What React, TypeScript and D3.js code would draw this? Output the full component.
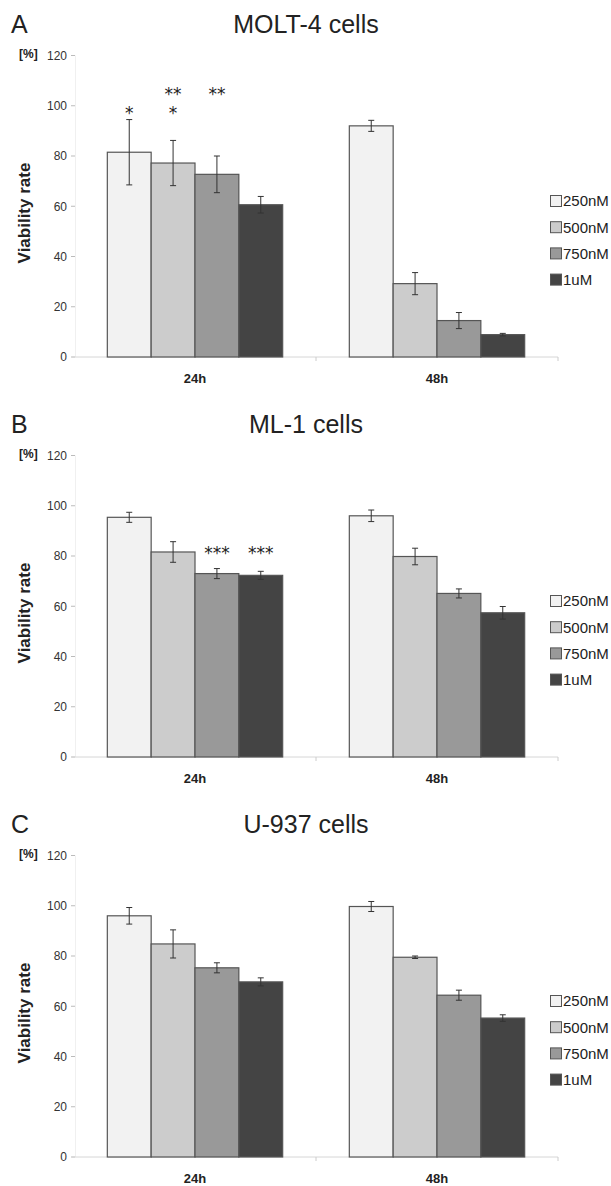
import React from "react";
import * as d3 from "d3";

const concentrations = ["250nM", "500nM", "750nM", "1uM"];
const timepoints = ["24h", "48h"];
const yTicks = [0, 20, 40, 60, 80, 100, 120];
const barColors = ["#f2f2f2", "#cccccc", "#999999", "#444444"];

const panelLetters = ["A", "B", "C"];
const panelTitles = ["MOLT-4 cells", "ML-1 cells", "U-937 cells"];

// MOLT-4
const molt4Mean24 = [81.5, 77.2, 72.7, 60.6];
const molt4Err24 = [13.0, 9.0, 7.3, 3.3];
const molt4Mean48 = [92.0, 29.2, 14.5, 8.9];
const molt4Err48 = [2.2, 4.4, 3.2, 0.5];
const molt4Stars24 = [["*"], ["**", "*"], ["**"], []];
const molt4StarLevel24 = [98.5, 106, 106, 0];
const molt4Stars48 = [[], [], [], []];
const molt4StarLevel48 = [0, 0, 0, 0];

// ML-1
const ml1Mean24 = [95.4, 81.6, 73.0, 72.3];
const ml1Err24 = [2.0, 4.1, 2.0, 1.6];
const ml1Mean48 = [96.0, 79.8, 65.1, 57.4];
const ml1Err48 = [2.3, 3.3, 1.8, 2.5];
const ml1Stars24 = [[], [], ["***"], ["***"]];
const ml1StarLevel24 = [0, 0, 82.7, 82.7];
const ml1Stars48 = [[], [], [], []];
const ml1StarLevel48 = [0, 0, 0, 0];

// U-937
const u937Mean24 = [96.0, 84.8, 75.3, 69.7];
const u937Err24 = [3.3, 5.6, 2.0, 1.6];
const u937Mean48 = [99.7, 79.5, 64.4, 55.3];
const u937Err48 = [2.0, 0.5, 2.0, 1.3];
const u937Stars24 = [[], [], [], []];
const u937StarLevel24 = [0, 0, 0, 0];
const u937Stars48 = [[], [], [], []];
const u937StarLevel48 = [0, 0, 0, 0];

const panels = [
  {
    means: [molt4Mean24, molt4Mean48],
    errs: [molt4Err24, molt4Err48],
    stars: [molt4Stars24, molt4Stars48],
    starLevels: [molt4StarLevel24, molt4StarLevel48],
  },
  {
    means: [ml1Mean24, ml1Mean48],
    errs: [ml1Err24, ml1Err48],
    stars: [ml1Stars24, ml1Stars48],
    starLevels: [ml1StarLevel24, ml1StarLevel48],
  },
  {
    means: [u937Mean24, u937Mean48],
    errs: [u937Err24, u937Err48],
    stars: [u937Stars24, u937Stars48],
    starLevels: [u937StarLevel24, u937StarLevel48],
  },
];

const FONT = "'Liberation Sans', Arial, Helvetica, sans-serif";
const STAR_FONT = "'DejaVu Sans', sans-serif";
const W = 611;
const H = 1186;
const PANEL_H = 400;
const PLOT_L = 74;
const PLOT_R = 558;

function Panel({ idx }: { idx: number }) {
  const p = panels[idx];
  const y = d3.scaleLinear().domain([0, 120]).range([357, 55.5]);
  const xg = d3.scaleBand().domain(timepoints).range([PLOT_L, PLOT_R]).padding(0);
  const xc = d3
    .scaleBand()
    .domain(concentrations)
    .range([0, xg.bandwidth()])
    .paddingInner(0)
    .paddingOuter(0.76);
  const bw = xc.bandwidth();
  return (
    <g transform={`translate(0,${idx * PANEL_H})`}>
      <text x={11} y={33} fontSize={25} fontFamily={FONT} fill="#222">
        {panelLetters[idx]}
      </text>
      <text x={306} y={33} fontSize={25} fontFamily={FONT} fill="#222" textAnchor="middle">
        {panelTitles[idx]}
      </text>
      <text x={19} y={58} fontSize={12} fontWeight="bold" fontFamily={FONT} fill="#222">
        [%]
      </text>
      <text
        transform={`translate(30,213) rotate(-90)`}
        fontSize={17}
        fontWeight="bold"
        fontFamily={FONT}
        fill="#222"
        textAnchor="middle"
      >
        Viability rate
      </text>
      {/* y axis */}
      <line x1={PLOT_L + 1.5} x2={PLOT_L + 1.5} y1={y(120)} y2={y(0)} stroke="#f0f0f0" strokeWidth={1} />
      {yTicks.map((t) => (
        <g key={t}>
          <line x1={71} x2={75} y1={y(t)} y2={y(t)} stroke="#bbb" strokeWidth={1} />
          <text x={67} y={y(t) + 4.3} fontSize={12} fontFamily={FONT} fill="#333" textAnchor="end">
            {t}
          </text>
        </g>
      ))}
      {/* x axis */}
      <line x1={PLOT_L - 2} x2={PLOT_R} y1={y(0)} y2={y(0)} stroke="#d6d6d6" strokeWidth={1} />
      {[PLOT_L + xg.bandwidth(), PLOT_R].map((xx, i) => (
        <line key={i} x1={xx} x2={xx} y1={y(0)} y2={y(0) + 4} stroke="#ccc" strokeWidth={1} />
      ))}
      {timepoints.map((tp, ti) => {
        const gx = xg(tp)!;
        return (
          <g key={tp}>
            {concentrations.map((c, ci) => {
              const v = p.means[ti][ci];
              const e = p.errs[ti][ci];
              const bx = gx + xc(c)!;
              const cx = bx + bw / 2;
              const stars = p.stars[ti][ci];
              const level = p.starLevels[ti][ci];
              return (
                <g key={c}>
                  <rect
                    x={bx}
                    y={y(v)}
                    width={bw}
                    height={y(0) - y(v)}
                    fill={barColors[ci]}
                    stroke="#555"
                    strokeWidth={1.2}
                  />
                  <line x1={cx} x2={cx} y1={y(v + e)} y2={y(v - e)} stroke="#333" strokeWidth={1} />
                  <line x1={cx - 3} x2={cx + 3} y1={y(v + e)} y2={y(v + e)} stroke="#333" strokeWidth={1} />
                  <line x1={cx - 3} x2={cx + 3} y1={y(v - e)} y2={y(v - e)} stroke="#333" strokeWidth={1} />
                  {stars.map((s, si) => (
                    <text
                      key={si}
                      x={cx}
                      y={y(level) + 9.6 + si * 19}
                      fontSize={17}
                      fontFamily={STAR_FONT}
                      fill="#222"
                      textAnchor="middle"
                    >
                      {s}
                    </text>
                  ))}
                </g>
              );
            })}
            <text
              x={gx + xg.bandwidth() / 2}
              y={383}
              fontSize={13}
              fontWeight="bold"
              fontFamily={FONT}
              fill="#222"
              textAnchor="middle"
            >
              {tp}
            </text>
          </g>
        );
      })}
      {/* legend */}
      {concentrations.map((c, ci) => {
        const ly = 201 + ci * 26.2;
        return (
          <g key={c}>
            <rect x={550.5} y={ly - 5.5} width={11} height={11} fill={barColors[ci]} stroke="#555" strokeWidth={1} />
            <text x={563} y={ly + 5.3} fontSize={15} fontFamily={FONT} fill="#222">
              {c}
            </text>
          </g>
        );
      })}
    </g>
  );
}

export default function App() {
  return (
    <svg
      width={W}
      height={H}
      viewBox={`0 0 ${W} ${H}`}
      style={{ position: "absolute", left: 0, top: 0, background: "#fff" }}
    >
      <rect x={0} y={0} width={W} height={H} fill="#fff" />
      {[0, 1, 2].map((i) => (
        <Panel key={i} idx={i} />
      ))}
    </svg>
  );
}
